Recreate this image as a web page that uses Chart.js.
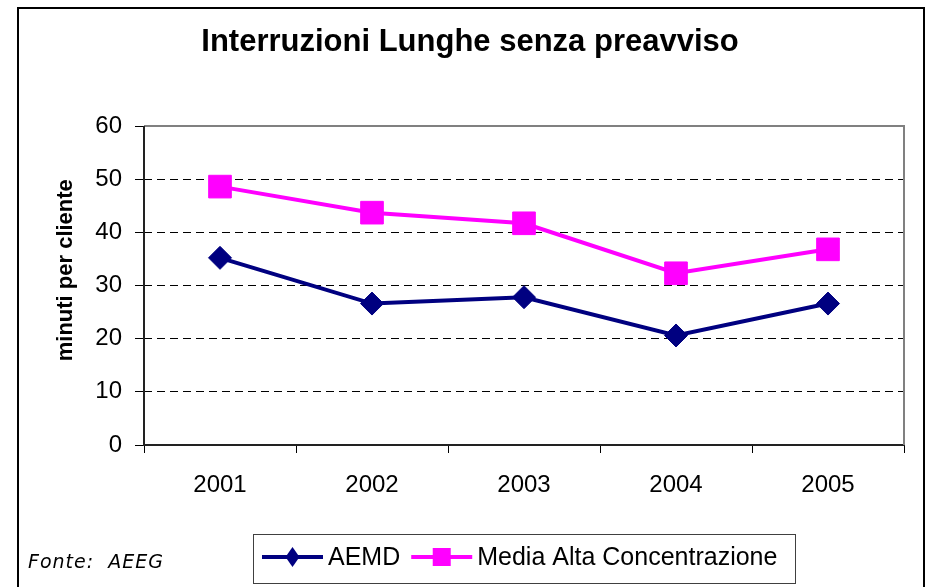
<!DOCTYPE html>
<html>
<head>
<meta charset="utf-8">
<script src="https://cdn.jsdelivr.net/npm/chart.js@4.4.1/dist/chart.umd.min.js"></script>
<style>
  html, body { margin: 0; padding: 0; background: #fff; }
  #wrap { width: 928px; height: 587px; }
</style>
</head>
<body>
<div id="wrap"><canvas id="c" width="928" height="587"></canvas></div>
<script>
const categories = ['2001', '2002', '2003', '2004', '2005'];
const aemdValues = [35.2, 26.6, 27.8, 20.6, 26.6];
const mediaAltaValues = [48.6, 43.7, 41.7, 32.3, 36.8];
const seriesNames = ['AEMD', 'Media Alta Concentrazione'];
const yMin = 0, yMax = 60, yStep = 10;
const chartTitle = 'Interruzioni Lunghe senza preavviso';
const yTitle = 'minuti per cliente';
const sourceText = 'Fonte:  AEEG';

const NAVY = '#000080';
const MAGENTA = '#FF00FF';
const FONT = '"Liberation Sans", Arial, sans-serif';

const decorPlugin = {
  id: 'decor',
  beforeDatasetsDraw(chart) {
    const {ctx, chartArea: a} = chart;
    ctx.save();
    ctx.setLineDash([]);
    ctx.strokeStyle = '#808080';
    ctx.lineWidth = 2;
    ctx.beginPath();
    ctx.moveTo(a.left, a.top);
    ctx.lineTo(a.right, a.top);
    ctx.lineTo(a.right, a.bottom);
    ctx.stroke();
    // solid value axis line
    ctx.strokeStyle = '#222';
    ctx.beginPath();
    ctx.moveTo(a.left, a.top);
    ctx.lineTo(a.left, a.bottom);
    ctx.stroke();
    ctx.restore();
  },
  afterDraw(chart) {
    const {ctx} = chart;
    ctx.save();
    ctx.setLineDash([]);
    // outer frame
    ctx.strokeStyle = '#000';
    ctx.lineWidth = 2;
    ctx.beginPath();
    ctx.moveTo(18, 600);
    ctx.lineTo(18, 8);
    ctx.lineTo(924, 8);
    ctx.lineTo(924, 600);
    ctx.stroke();

    // source
    ctx.fillStyle = '#000';
    ctx.font = 'italic 19px "DejaVu Sans", Verdana, sans-serif';
    try { ctx.letterSpacing = '1px'; } catch (e) {}
    ctx.textBaseline = 'alphabetic';
    ctx.textAlign = 'left';
    ctx.fillText(sourceText, 28, 568);
    try { ctx.letterSpacing = '0px'; } catch (e) {}

    // legend box
    const bx = 253, by = 534, bw = 542, bh = 49;
    ctx.fillStyle = '#fff';
    ctx.fillRect(bx, by, bw, bh);
    ctx.strokeStyle = '#404040';
    ctx.lineWidth = 1;
    ctx.strokeRect(bx + 0.5, by + 0.5, bw, bh);

    ctx.font = '25px ' + FONT;
    ctx.textBaseline = 'alphabetic';
    let x = 262;
    const ly = 557;
    chart.data.datasets.forEach((ds, i) => {
      ctx.strokeStyle = ds.borderColor;
      ctx.lineWidth = 4;
      ctx.beginPath();
      ctx.moveTo(x, ly);
      ctx.lineTo(x + 61, ly);
      ctx.stroke();
      const cx = x + 30.5;
      ctx.fillStyle = ds.borderColor;
      if (ds.pointStyle === 'rectRot') {
        ctx.beginPath();
        ctx.moveTo(cx, ly - 10);
        ctx.lineTo(cx + 7, ly);
        ctx.lineTo(cx, ly + 10);
        ctx.lineTo(cx - 7, ly);
        ctx.closePath();
        ctx.fill();
      } else {
        ctx.fillRect(cx - 9, ly - 9, 18, 18);
      }
      ctx.fillStyle = '#000';
      ctx.fillText(ds.label, x + 66, 565);
      x = x + 66 + ctx.measureText(ds.label).width + 11;
    });
    ctx.restore();
  }
};

new Chart(document.getElementById('c'), {
  type: 'line',
  data: {
    labels: categories,
    datasets: [
      {
        label: seriesNames[0],
        data: aemdValues,
        borderColor: NAVY,
        backgroundColor: NAVY,
        borderWidth: 4,
        pointStyle: 'rectRot',
        pointRadius: 11.5,
        pointHoverRadius: 11.5,
        pointBackgroundColor: NAVY,
        pointBorderColor: NAVY,
        pointBorderWidth: 1,
        tension: 0,
        fill: false
      },
      {
        label: seriesNames[1],
        data: mediaAltaValues,
        borderColor: MAGENTA,
        backgroundColor: MAGENTA,
        borderWidth: 4,
        pointStyle: 'rect',
        pointRadius: 16,
        pointHoverRadius: 16,
        pointBackgroundColor: MAGENTA,
        pointBorderColor: MAGENTA,
        pointBorderWidth: 1,
        tension: 0,
        fill: false
      }
    ]
  },
  options: {
    responsive: false,
    animation: false,
    devicePixelRatio: 1,
    layout: { padding: { left: 36, right: 24, top: 0, bottom: 0 } },
    plugins: {
      legend: { display: false },
      tooltip: { enabled: false },
      title: {
        display: true,
        text: chartTitle,
        color: '#000',
        font: { family: FONT, size: 31, weight: 'bold', lineHeight: 1.2 },
        padding: { top: 24, bottom: 64.8 }
      }
    },
    scales: {
      x: {
        type: 'category',
        offset: true,
        afterFit(s) { s.height = 142; },
        grid: {
          offset: true,
          drawOnChartArea: false,
          drawTicks: true,
          tickLength: 8,
          tickColor: '#000',
          tickWidth: 1
        },
        border: { display: true, color: '#222', width: 2 },
        ticks: {
          color: '#000',
          padding: 18,
          maxRotation: 0,
          font: { family: FONT, size: 24 }
        }
      },
      y: {
        min: yMin,
        max: yMax,
        afterFit(s) { s.width = 108; },
        ticks: {
          stepSize: yStep,
          color: '#000',
          padding: 13,
          font: { family: FONT, size: 24 }
        },
        grid: {
          color: (c) => (c.tick && (c.tick.value === yMin || c.tick.value === yMax)) ? 'rgba(0,0,0,0)' : '#000',
          lineWidth: 1,
          drawTicks: true,
          tickLength: 9,
          tickColor: '#000',
          tickBorderDash: [],
          tickWidth: 1
        },
        border: { display: false, dash: [8, 5], color: '#222', width: 2 },
        title: {
          display: true,
          text: '\u00a0\u00a0\u00a0\u00a0\u00a0' + yTitle,
          color: '#000',
          font: { family: FONT, size: 22, weight: 'bold', lineHeight: 1.2 },
          padding: { top: 17, bottom: 0 }
        }
      }
    }
  },
  plugins: [decorPlugin]
});
</script>
</body>
</html>
